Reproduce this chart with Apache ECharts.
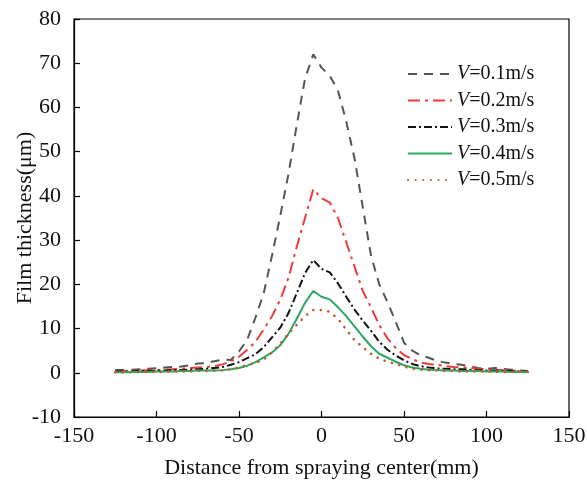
<!DOCTYPE html>
<html>
<head>
<meta charset="utf-8">
<script src="https://cdn.jsdelivr.net/npm/echarts@6/dist/echarts.min.js"></script>
<style>
html,body{margin:0;padding:0;background:#fff;}
#chart{width:587px;height:485px;}
</style>
</head>
<body>
<div id="chart"></div>
<script>
var xValues = [-125,-120,-115,-110,-105,-100,-95,-90,-85,-80,-75,-70,-65,-60,-55,-50,-45,-40,-35,-30,-25,-20,-15,-10,-5,0,5,10,15,20,25,30,35,40,45,50,55,60,65,70,75,80,85,90,95,100,105,110,115,120,125];
var seriesNames = ["V=0.1m/s","V=0.2m/s","V=0.3m/s","V=0.4m/s","V=0.5m/s"];
var v01 = [0.6,0.6,0.7,0.8,0.9,1.0,1.2,1.3,1.4,1.7,2.1,2.2,2.6,3.0,2.9,4.8,7.5,12.5,18,26.5,35.5,45,56,66.5,72,69,67.2,63.8,56.8,48.5,37.5,26.5,20,16,11.5,6.8,5,4,3.4,2.7,2.3,2.0,1.8,1.5,1.1,0.9,1.1,0.9,0.7,0.5,0.4];
var v02 = [0.4,0.4,0.5,0.5,0.6,0.6,0.7,0.8,0.9,1.1,1.2,1.3,1.5,1.9,2.6,3.6,5.2,7.0,9.8,12.8,16.5,21.5,28.5,35,41.5,39.5,38.5,35,29.5,24,18.5,14.8,10.8,7.8,5.6,4,3.1,2.3,2.0,1.8,1.5,1.3,1.2,1.1,0.9,0.8,0.7,0.6,0.5,0.4,0.3];
var v03 = [0.3,0.3,0.3,0.4,0.4,0.5,0.5,0.6,0.6,0.7,0.8,0.9,1.1,1.3,1.8,2.4,3.3,4.2,5.8,8.0,10.2,13.5,18,22.5,25.5,23.5,22.7,20.2,17.2,14.3,11.8,9.5,7,5.2,3.9,2.8,2.0,1.5,1.2,1.0,0.9,0.8,0.8,0.7,0.6,0.5,0.5,0.4,0.4,0.3,0.3];
var v04 = [0.1,0.1,0.2,0.2,0.2,0.3,0.3,0.3,0.4,0.4,0.5,0.5,0.5,0.6,0.8,1.1,1.6,2.4,3.5,4.6,6.2,8.8,12.2,15.8,18.5,17.2,16.6,14.8,12.8,10.5,8.2,6,4.3,3.4,2.5,1.7,1.2,0.9,0.7,0.6,0.5,0.5,0.4,0.4,0.4,0.3,0.3,0.3,0.2,0.2,0.2];
var v05 = [0.1,0.1,0.1,0.2,0.2,0.2,0.2,0.3,0.3,0.3,0.4,0.4,0.5,0.5,0.8,1.2,1.8,2.2,3.0,4.6,6.6,8.9,10.8,12.8,14.2,14.2,13.8,12.2,9.8,7.4,5.8,4.3,3.2,2.5,2.0,1.4,0.9,0.7,0.6,0.5,0.4,0.4,0.3,0.3,0.3,0.3,0.2,0.2,0.2,0.2,0.2];
var xTicks = [-150,-100,-50,0,50,100,150];
var yTicks = [-10,0,10,20,30,40,50,60,70,80];

var allValues = [v01,v02,v03,v04,v05];
var colors = ["#555555","#f03a3a","#111111","#2aa862","#c0602c"];
var dashes = [[9,7],[12,5,3,5],[8,3,2,3],"solid",[0.1,7.5]];
var widths = [2,2,2,2,2.6];
var FONT = "'Liberation Serif','Times New Roman',serif";

function pairs(vals){ return xValues.map(function(x,i){ return [x, vals[i]]; }); }

var chart = echarts.init(document.getElementById('chart'), null, {renderer:'canvas'});
chart.setOption({
  animation:false,
  backgroundColor:'#fff',
  grid:{left:74,right:18,top:19,bottom:68,show:true,borderColor:'#000',borderWidth:1.2,backgroundColor:'transparent',
        containLabel:false,outerBoundsMode:'none'},
  legend:{
    orient:'vertical',
    left:402,top:59,
    itemWidth:44,itemHeight:12,itemGap:6.5,
    itemStyle:{opacity:0},
    data:seriesNames,
    textStyle:{fontFamily:FONT,fontSize:20,color:'#111',
      rich:{i:{fontStyle:'italic',fontFamily:FONT,fontSize:20,color:'#111'},n:{fontFamily:FONT,fontSize:20,color:'#111'}}},
    formatter:function(name){ return '{i|V}{n|' + name.slice(1) + '}'; }
  },
  xAxis:{
    type:'value',min:xTicks[0],max:xTicks[xTicks.length-1],interval:50,
    name:'Distance from spraying center(mm)',nameLocation:'middle',nameGap:40,nameMoveOverlap:false,
    nameTextStyle:{fontFamily:FONT,fontSize:22,color:'#111'},
    axisLine:{show:true,onZero:false,lineStyle:{color:'#000',width:1.2}},
    axisTick:{show:true,inside:true,length:6,lineStyle:{color:'#000',width:1.2}},
    axisLabel:{fontFamily:FONT,fontSize:22,color:'#111',margin:8},
    splitLine:{show:false}
  },
  yAxis:{
    type:'value',min:yTicks[0],max:yTicks[yTicks.length-1],interval:10,
    name:'Film thickness(μm)',nameLocation:'middle',nameGap:38,nameMoveOverlap:false,
    nameTextStyle:{fontFamily:FONT,fontSize:22,color:'#111'},
    axisLine:{show:true,onZero:false,lineStyle:{color:'#000',width:1.2}},
    axisTick:{show:true,inside:true,length:6,lineStyle:{color:'#000',width:1.2}},
    axisLabel:{fontFamily:FONT,fontSize:22,color:'#111',margin:13},
    splitLine:{show:false}
  },
  series: allValues.map(function(vals,k){
    return {
      name:seriesNames[k],type:'line',data:pairs(vals),
      showSymbol:false,symbol:'none',smooth:false,
      lineStyle:{color:colors[k],width:widths[k],type:dashes[k],cap:k===4?'round':'butt'},
      itemStyle:{color:colors[k]}
    };
  })
});
</script>
</body>
</html>
